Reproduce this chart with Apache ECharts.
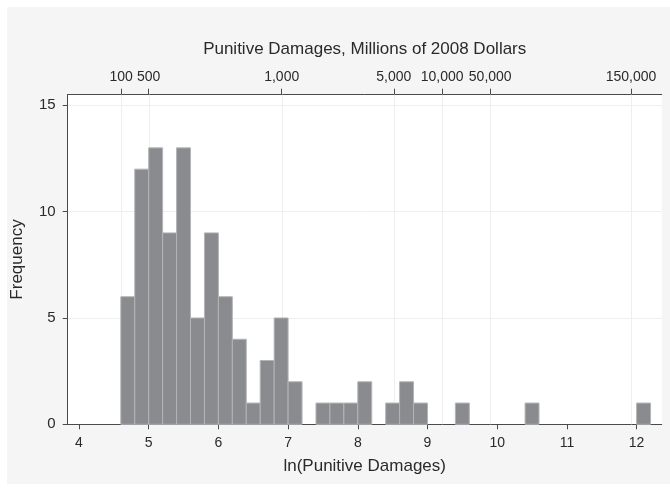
<!DOCTYPE html>
<html>
<head>
<meta charset="utf-8">
<script src="https://cdn.jsdelivr.net/npm/echarts@6/dist/echarts.min.js"></script>
<style>html,body{margin:0;padding:0;background:#fff}#c{width:670px;height:491px}</style>
</head>
<body>
<div id="c"></div>
<script>
// ---- data ----
const binStarts = [4.6,4.8,5.0,5.2,5.4,5.6,5.8,6.0,6.2,6.4,6.6,6.8,7.0,7.2,7.4,7.6,7.8,8.0,8.2,8.4,8.6,8.8,9.0,9.2,9.4,9.6,9.8,10.0,10.2,10.4,10.6,10.8,11.0,11.2,11.4,11.6,11.8,12.0];
const counts    = [6,12,13,9,13,5,9,6,4,1,3,5,2,0,1,1,1,2,0,1,2,1,0,0,1,0,0,0,0,1,0,0,0,0,0,0,0,1];
const binWidth = 0.2;
const bottomTicks = [4,5,6,7,8,9,10,11,12];
const topTickPos = [4.605,5.0,6.908,8.517,9.21,9.9,11.92];
const topTickLabels = ['100','500','1,000','5,000','10,000','50,000','150,000'];
const yTicks = [0,5,10,15];

const FONT = "'Liberation Sans', Arial, Helvetica, sans-serif";
const TXT = '#2a2a2a';
const AX = '#4a4a4a';
const xMin = 3.838, xMax = 12.36;

const chart = echarts.init(document.getElementById('c'), null, {renderer:'canvas'});
const histData = binStarts.map((b,i)=>[b, counts[i]]).filter(d=>d[1]>0);

chart.setOption({
  backgroundColor:'#ffffff',
  animation:false,
  graphic:[{type:'rect', left:7, top:7, shape:{width:663, height:477}, style:{fill:'#f5f5f5'}, z:-10, silent:true}],
  grid:{left:67.7, right:8.3, top:94.7, bottom:66.7, show:true, backgroundColor:'#ffffff', borderWidth:0},
  xAxis:[{
    type:'value', min:xMin, max:xMax, position:'bottom',
    name:'ln(Punitive Damages)', nameLocation:'middle', nameGap:34,
    nameTextStyle:{fontFamily:FONT, fontSize:17, color:TXT},
    axisLine:{show:true, onZero:false, lineStyle:{color:AX, width:1}},
    axisTick:{show:true, length:5, customValues:bottomTicks, lineStyle:{color:AX}},
    axisLabel:{customValues:bottomTicks, margin:12, fontFamily:FONT, fontSize:14, color:TXT},
    splitLine:{show:false}
  },{
    type:'value', min:xMin, max:xMax, position:'top',
    name:'Punitive Damages, Millions of 2008 Dollars', nameLocation:'middle', nameGap:37,
    nameTextStyle:{fontFamily:FONT, fontSize:17, color:TXT},
    axisLine:{show:true, onZero:false, lineStyle:{color:AX, width:1}},
    axisTick:{show:true, length:6, customValues:topTickPos, lineStyle:{color:AX}},
    axisLabel:{customValues:topTickPos, margin:11, fontFamily:FONT, fontSize:14, color:TXT,
      formatter:function(v){let bi=0,bd=1e9;topTickPos.forEach((p,i)=>{const d=Math.abs(p-v);if(d<bd){bd=d;bi=i;}});return topTickLabels[bi];}},
    splitLine:{show:false}
  }],
  yAxis:{
    type:'value', min:0, max:15.5,
    name:'Frequency', nameLocation:'middle', nameGap:42, nameRotate:90,
    nameTextStyle:{fontFamily:FONT, fontSize:17, color:TXT},
    axisLine:{show:true, lineStyle:{color:AX, width:1}},
    axisTick:{show:true, length:5, customValues:yTicks, lineStyle:{color:AX}},
    axisLabel:{customValues:yTicks, margin:12, fontFamily:FONT, fontSize:15, color:TXT},
    splitLine:{show:true, lineStyle:{color:'#efefef', width:1}}
  },
  series:[{
    type:'custom', xAxisIndex:1, yAxisIndex:0, z:1, silent:true,
    data:topTickPos,
    renderItem:function(params, api){
      const p = api.coord([api.value(0), 0]);
      const cs = params.coordSys;
      return {type:'line', shape:{x1:Math.round(p[0])+0.5, y1:cs.y, x2:Math.round(p[0])+0.5, y2:cs.y+cs.height}, style:{stroke:'#efefef', lineWidth:1}};
    }
  },{
    type:'custom', xAxisIndex:0, yAxisIndex:0, z:2, silent:true,
    data:histData,
    renderItem:function(params, api){
      const x0 = api.value(0), h = api.value(1);
      const p0 = api.coord([x0, 0]);
      const p1 = api.coord([x0 + binWidth, h]);
      return {type:'rect', shape:{x:p0[0], y:p1[1], width:p1[0]-p0[0], height:p0[1]-p1[1]},
        style:{fill:'#8a8b8f', stroke:'#b3b4b7', lineWidth:1}};
    }
  }]
});
</script>
</body>
</html>
